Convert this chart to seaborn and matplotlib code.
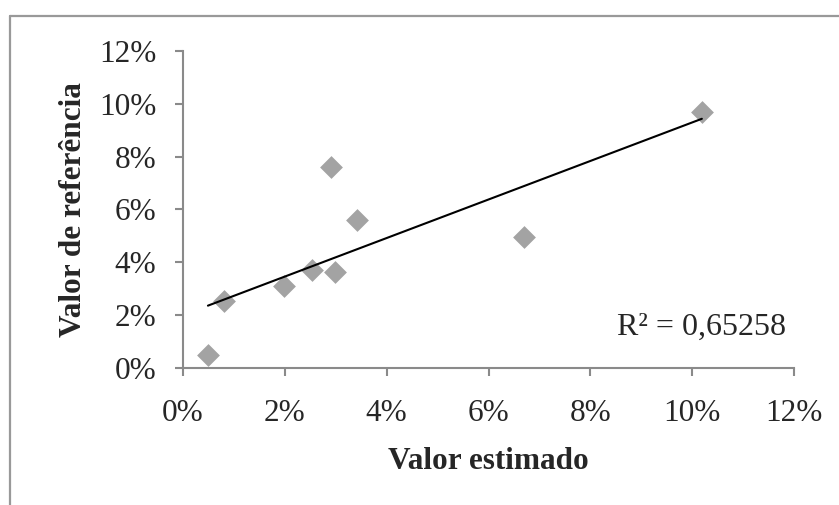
import numpy as np
import pandas as pd
import seaborn as sns
import matplotlib
matplotlib.use("Agg")
import matplotlib.pyplot as plt
from matplotlib.lines import Line2D
from matplotlib.ticker import FuncFormatter, MultipleLocator

# valores (em %)
valor_estimado = [0.49, 0.81, 1.98, 2.54, 2.99, 2.90, 3.42, 6.69, 10.19]
valor_referencia = [0.50, 2.55, 3.12, 3.71, 3.65, 7.59, 5.61, 4.95, 9.69]
r2_texto = "R² = 0,65258"

df = pd.DataFrame({"est": valor_estimado, "ref": valor_referencia})

sns.set_style("white")
plt.rcParams["font.family"] = ["Liberation Serif", "DejaVu Serif"]

fig = plt.figure(figsize=(8.39, 5.05), dpi=100)
ax = fig.add_axes([0.2181, 0.2713, 0.7283, 0.6277])

cinza = "#8c8c8c"
sns.regplot(data=df, x="est", y="ref", ax=ax, ci=None, marker="D",
            scatter_kws={"s": 135, "color": cinza, "linewidths": 0},
            line_kws={"color": "black", "linewidth": 1.5})

ax.set_xlim(0, 12)
ax.set_ylim(0, 12)
ax.xaxis.set_major_locator(MultipleLocator(2))
ax.yaxis.set_major_locator(MultipleLocator(2))
fmt = FuncFormatter(lambda v, p: f"{v:.0f}%")
ax.xaxis.set_major_formatter(fmt)
ax.yaxis.set_major_formatter(fmt)

for s in ["top", "right"]:
    ax.spines[s].set_visible(False)
for s in ["left", "bottom"]:
    ax.spines[s].set_color("#8a8a8a")
    ax.spines[s].set_linewidth(1.5)

ax.tick_params(axis="both", which="major", direction="out", length=6,
               width=1.5, color="#8a8a8a", labelsize=22.5, pad=13,
               left=True, bottom=True)
ax.tick_params(axis="x", pad=16)

ax.set_xlabel("Valor estimado", fontsize=22.5, fontweight="bold", labelpad=14)
ax.set_ylabel("Valor de referência", fontsize=22.5, fontweight="bold", labelpad=8)

ax.text(0.71, 0.104, r2_texto, transform=ax.transAxes, fontsize=23,
        va="baseline", ha="left")

# moldura da area do grafico (so topo e esquerda aparecem)
fig.add_artist(Line2D([0.012, 1.0], [0.968, 0.968], color="#999999", lw=1.6,
                      transform=fig.transFigure))
fig.add_artist(Line2D([0.012, 0.012], [0.0, 0.968], color="#999999", lw=1.6,
                      transform=fig.transFigure))

fig.savefig("out.png", dpi=100)
